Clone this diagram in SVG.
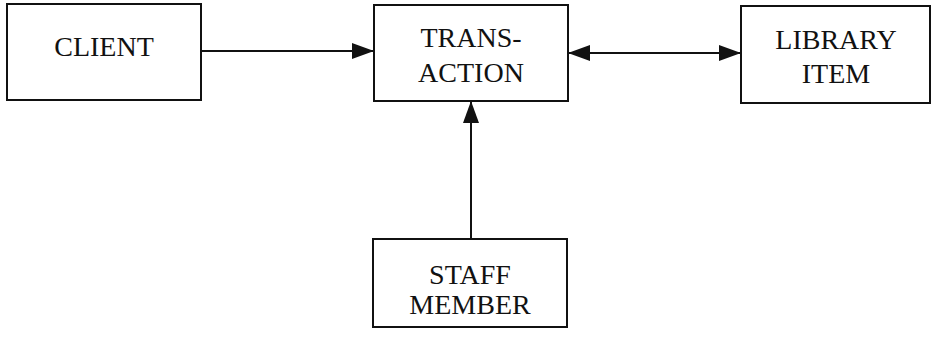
<svg xmlns="http://www.w3.org/2000/svg" width="932" height="337" viewBox="0 0 932 337">
  <defs>
    <style>
      .box { fill: #ffffff; stroke: #111111; stroke-width: 2; }
      .label { font-family: "Liberation Serif", "Times New Roman", serif; font-size: 28px; fill: #111111; text-anchor: middle; }
      .edge { stroke: #111111; stroke-width: 2; fill: none; }
    </style>
    <marker id="arrow" viewBox="0 0 22 16" refX="22" refY="8" markerWidth="22" markerHeight="16" markerUnits="userSpaceOnUse" orient="auto-start-reverse">
      <path d="M0,0 L22,8 L0,16 Z" fill="#111111"/>
    </marker>
  </defs>
  <rect width="932" height="337" fill="#ffffff"/>

  <g id="connectors">
    <line class="edge" x1="201" y1="51" x2="374" y2="51" marker-end="url(#arrow)"/>
    <line class="edge" x1="568" y1="53" x2="741" y2="53" marker-start="url(#arrow)" marker-end="url(#arrow)"/>
    <line class="edge" x1="471" y1="239" x2="471" y2="101" marker-end="url(#arrow)"/>
  </g>

  <g id="client">
    <rect class="box" x="7" y="4" width="194" height="96"/>
    <text class="label" x="104" y="56">CLIENT</text>
  </g>

  <g id="transaction">
    <rect class="box" x="374" y="5" width="194" height="96"/>
    <text class="label" x="471" y="47">TRANS-</text>
    <text class="label" x="471" y="82">ACTION</text>
  </g>

  <g id="library-item">
    <rect class="box" x="741" y="6" width="189" height="97"/>
    <text class="label" x="836" y="49">LIBRARY</text>
    <text class="label" x="836" y="83">ITEM</text>
  </g>

  <g id="staff-member">
    <rect class="box" x="373" y="239" width="194" height="88"/>
    <text class="label" x="470" y="284">STAFF</text>
    <text class="label" x="470" y="314">MEMBER</text>
  </g>
</svg>
